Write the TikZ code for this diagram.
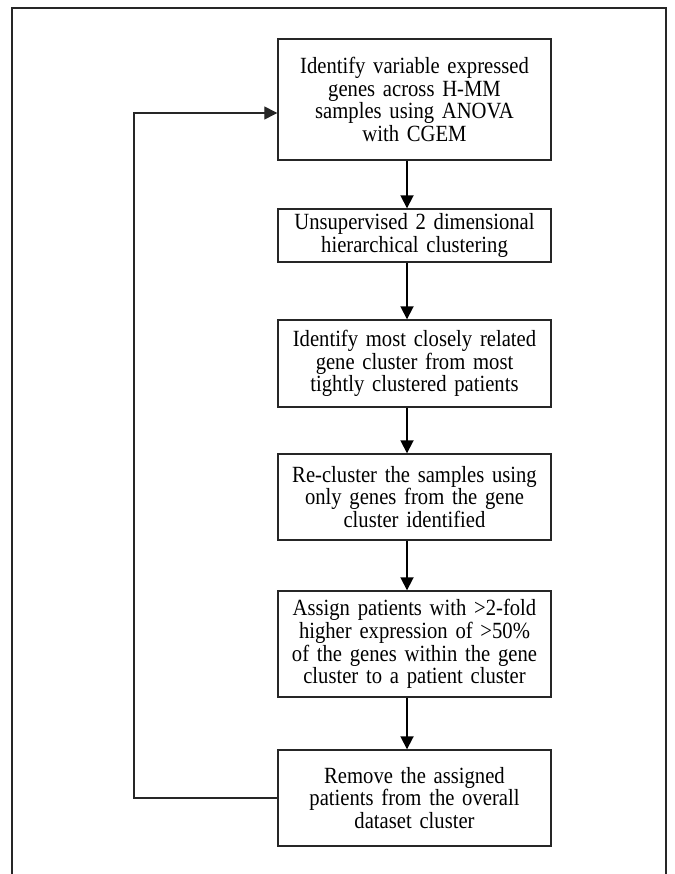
\documentclass[tikz,border=0pt]{standalone}
\usepackage{fontspec}
\setmainfont{Liberation Serif}[FakeStretch=0.89]
\usetikzlibrary{arrows.meta}
\begin{document}
\begin{tikzpicture}[x=1pt,y=-1pt,
  stepbox/.style={draw=black!85,line width=1.4pt,minimum width=273pt,inner sep=0pt,
    text width=270pt,align=center,font=\fontsize{23.2}{22.8}\selectfont},
  conn/.style={draw=black,line width=1.8pt,-{Triangle[length=13pt,width=13pt]}},
  back/.style={draw=black!85,line width=1.3pt,-{Triangle[length=13pt,width=13pt]}}]
\useasboundingbox (0,0) rectangle (674,874);
\draw[black!85,line width=1.3pt] (12,874) -- (12,8) -- (666,8) -- (666,874);
\node[stepbox,minimum height=121pt] (a) at (414.5,99.5)
  {Identify variable expressed\\ genes across H-MM\\ samples using ANOVA\\ with CGEM};
\node[stepbox,minimum height=53pt] (b) at (414.5,235.5)
  {Unsupervised 2 dimensional\\ hierarchical clustering};
\node[stepbox,minimum height=87pt] (c) at (414.5,363.5)
  {Identify most closely related\\ gene cluster from most\\ tightly clustered patients};
\node[stepbox,minimum height=86pt] (d) at (414.5,497)
  {Re-cluster the samples using\\ only genes from the gene\\ cluster identified};
\node[stepbox,minimum height=106pt] (e) at (414.5,644)
  {Assign patients with >2-fold\\ higher expression of >50\%\\ of the genes within the gene\\ cluster to a patient cluster};
\node[stepbox,minimum height=96pt] (f) at (414.5,798)
  {Remove the assigned\\ patients from the overall\\ dataset cluster};
\draw[conn] ([xshift=-7.5pt]a.south) -- ([xshift=-7.5pt]b.north);
\draw[conn] ([xshift=-7.5pt]b.south) -- ([xshift=-7.5pt]c.north);
\draw[conn] ([xshift=-7.5pt]c.south) -- ([xshift=-7.5pt]d.north);
\draw[conn] ([xshift=-7.5pt]d.south) -- ([xshift=-7.5pt]e.north);
\draw[conn] ([xshift=-7.5pt]e.south) -- ([xshift=-7.5pt]f.north);
\coordinate (lc) at (134,0);
\coordinate (tin) at ([yshift=-13.5pt]a.west);
\draw[back] (f.west) -- (f.west -| lc) -- (lc |- tin) -- (tin);
\end{tikzpicture}
\end{document}
